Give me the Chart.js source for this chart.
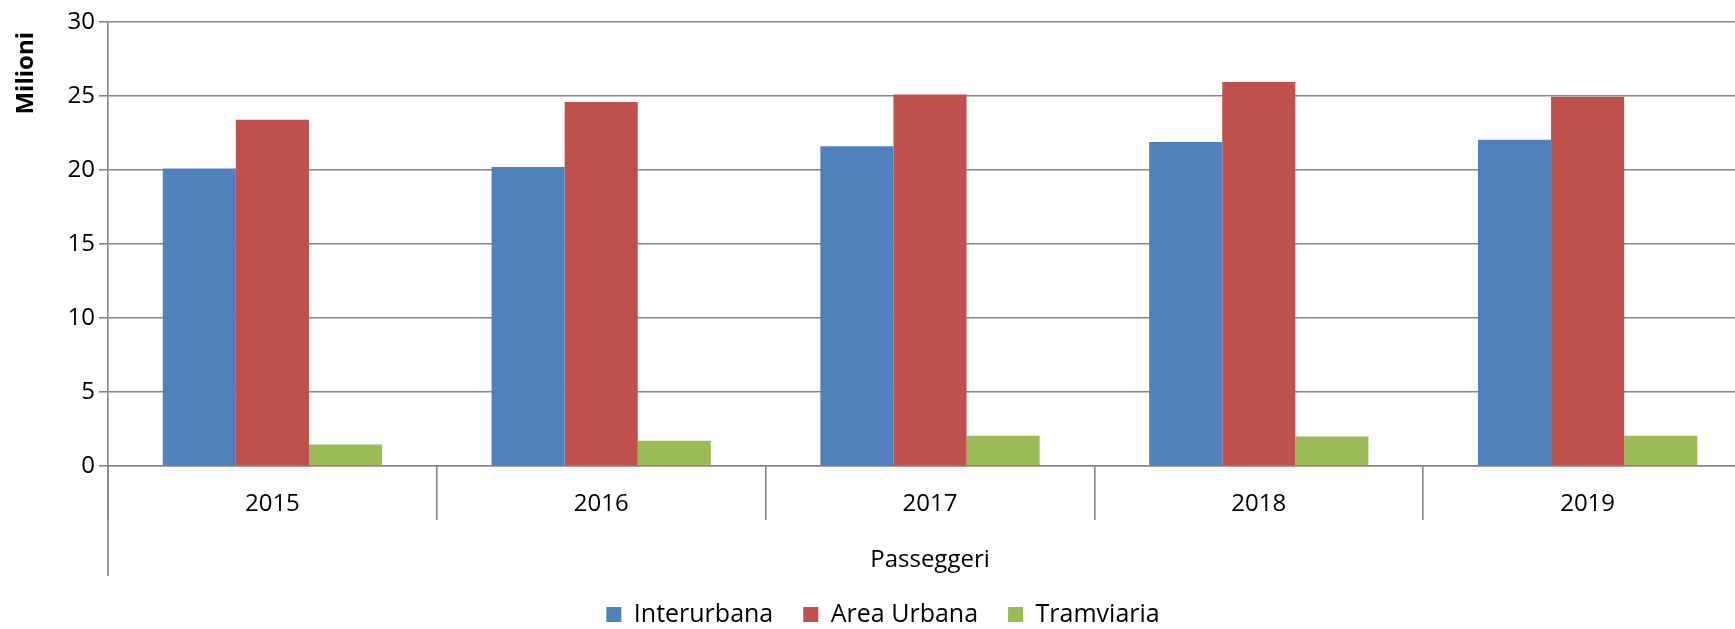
<!DOCTYPE html>
<html>
<head>
<meta charset="utf-8">
<script src="https://cdn.jsdelivr.net/npm/chart.js@4/dist/chart.umd.min.js"></script>
<style>
    html, body { margin: 0; padding: 0; background: #fff; overflow: hidden; }
    #wrap { position: absolute; left: 0; top: 0; }
</style>
</head>
<body>
<div id="wrap">
    <canvas id="chart" width="1752" height="637"></canvas>
</div>
<script>
// data
const years = ['2015', '2016', '2017', '2018', '2019'];
const interurbana = [20.1, 20.2, 21.6, 21.9, 22.05];
const areaUrbana = [23.4, 24.6, 25.1, 25.95, 24.95];
const tramviaria = [1.45, 1.7, 2.05, 2.0, 2.05];
const seriesNames = ['Interurbana', 'Area Urbana', 'Tramviaria'];
const yTicks = [0, 5, 10, 15, 20, 25, 30];
const yTitle = 'Milioni';

const gridColor = '#858585';
const fontFamily = '"Open Sans", sans-serif';

// Excel style extras: y axis line running down past the labels,
// axis title sitting near the top, legend nudged a bit to the right
const excelBits = {
    id: 'excelBits',
    afterLayout(chart) {
        chart.legend.left += 7;
        chart.legend.right += 7;
    },
    afterDraw(chart) {
        const ctx = chart.ctx;
        const area = chart.chartArea;
        ctx.save();
        ctx.strokeStyle = gridColor;
        ctx.lineWidth = 1.6;
        ctx.beginPath();
        ctx.moveTo(area.left, area.bottom);
        ctx.lineTo(area.left, area.bottom + 110);
        ctx.stroke();

        ctx.translate(26, area.top + 10);
        ctx.rotate(-Math.PI / 2);
        ctx.fillStyle = '#000';
        ctx.font = 'bold 24px ' + fontFamily;
        ctx.textAlign = 'right';
        ctx.textBaseline = 'middle';
        ctx.fillText(yTitle, 0, 0);
        ctx.restore();
    }
};

function makeDataset(label, values, color) {
    return {
        label: label,
        data: values,
        backgroundColor: color,
        borderWidth: 0,
        barPercentage: 1,
        categoryPercentage: 0.667
    };
}

new Chart(document.getElementById('chart').getContext('2d'), {
    type: 'bar',
    data: {
        labels: years,
        datasets: [
            makeDataset(seriesNames[0], interurbana, '#4F81BD'),
            makeDataset(seriesNames[1], areaUrbana, '#C0504D'),
            makeDataset(seriesNames[2], tramviaria, '#9BBB59')
        ]
    },
    options: {
        responsive: false,
        animation: false,
        layout: { padding: { top: 22, left: 0, right: 0, bottom: 0 } },
        plugins: {
            tooltip: { enabled: false },
            legend: {
                position: 'bottom',
                labels: {
                    boxWidth: 15,
                    boxHeight: 15,
                    padding: 30,
                    color: '#000',
                    font: { family: fontFamily, size: 25 }
                }
            }
        },
        scales: {
            x: {
                grid: {
                    offset: true,
                    drawOnChartArea: false,
                    tickLength: 54,
                    color: gridColor,
                    lineWidth: 1.6
                },
                border: { color: gridColor, width: 1.6 },
                ticks: {
                    padding: -30,
                    color: '#000',
                    font: { family: fontFamily, size: 24 }
                },
                title: {
                    display: true,
                    text: 'Passeggeri',
                    color: '#000',
                    padding: { top: 0, bottom: 0 },
                    font: { family: fontFamily, size: 24, lineHeight: 1 }
                },
                afterFit(scale) { scale.height = 106; }
            },
            y: {
                min: 0,
                max: 30,
                afterBuildTicks(scale) {
                    scale.ticks = yTicks.map(v => ({ value: v }));
                },
                grid: {
                    color: gridColor,
                    lineWidth: 1.6,
                    tickLength: 9
                },
                border: { color: gridColor, width: 1.6 },
                ticks: {
                    padding: 4,
                    color: '#000',
                    font: { family: fontFamily, size: 24 }
                },
                afterFit(scale) { scale.width = 108; }
            }
        }
    },
    plugins: [excelBits]
});
</script>
</body>
</html>
